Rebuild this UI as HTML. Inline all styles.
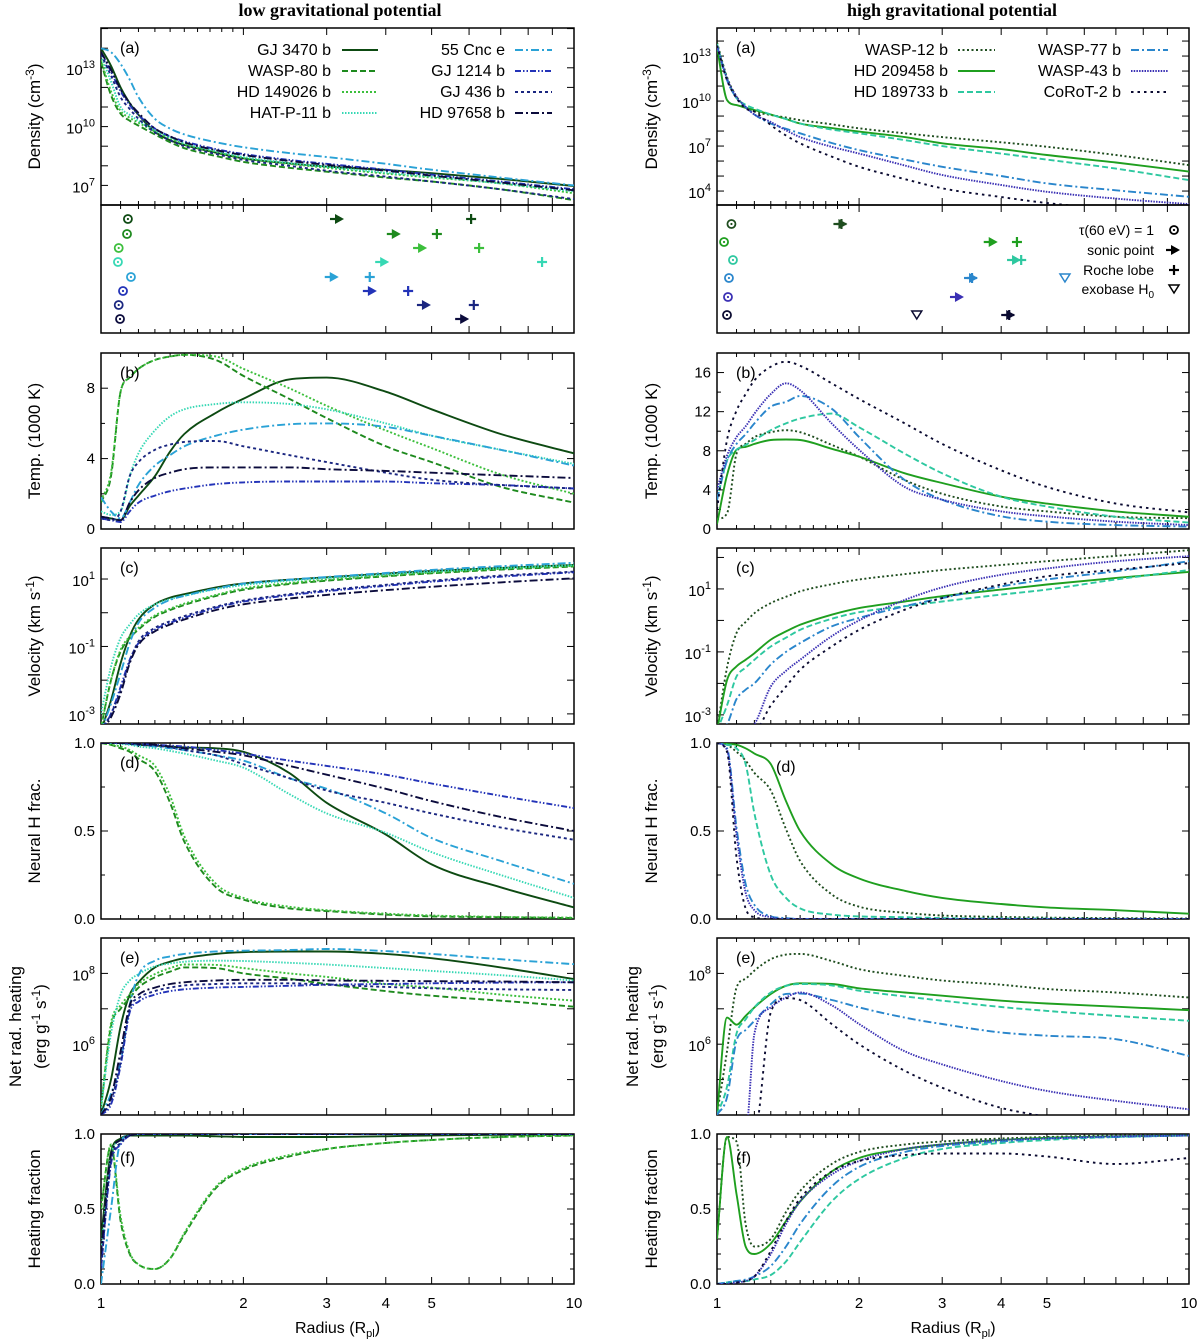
<!DOCTYPE html>
<html><head><meta charset="utf-8"><title>Planetary wind profiles</title>
<style>
html,body{margin:0;padding:0;background:#fff;}
svg{display:block;font-family:"Liberation Sans",sans-serif;}
</style></head>
<body>
<svg id="fig" width="1200" height="1339" viewBox="0 0 1200 1339" xmlns="http://www.w3.org/2000/svg">
<text x="340" y="16" text-anchor="middle" font-family="Liberation Serif, serif" font-weight="bold" font-size="18">low gravitational potential</text>
<text x="952" y="16" text-anchor="middle" font-family="Liberation Serif, serif" font-weight="bold" font-size="18">high gravitational potential</text>
</svg>
<script>
// ---------------- DATA ----------------
const radiusGrid = [1,1.05,1.1,1.15,1.2,1.3,1.4,1.5,1.75,2,2.5,3,4,5,7,10];
const lowPlanets = ['GJ 3470 b','WASP-80 b','HD 149026 b','HAT-P-11 b','55 Cnc e','GJ 1214 b','GJ 436 b','HD 97658 b'];
const highPlanets = ['WASP-12 b','HD 209458 b','HD 189733 b','WASP-77 b','WASP-43 b','CoRoT-2 b'];

// log10 density (cm^-3)
const lowDensityLog = [
 [14.0,13.1,12.0,11.2,10.6,9.74,9.3,9.06,8.67,8.38,8.12,7.96,7.79,7.62,7.33,6.97],
 [13.3,11.6,10.66,10.3,10.05,9.6,9.2,8.9,8.5,8.2,7.9,7.7,7.4,7.2,6.8,6.25],
 [13.4,11.8,10.8,10.45,10.2,9.75,9.4,9.1,8.7,8.4,8.1,7.9,7.6,7.4,7.1,6.6],
 [13.6,12.3,11.0,10.6,10.3,9.8,9.45,9.15,8.75,8.45,8.15,7.95,7.65,7.45,7.1,6.7],
 [14.0,13.8,13.2,12.4,11.5,10.4,9.9,9.6,9.2,8.95,8.65,8.45,8.1,7.8,7.4,7.0],
 [13.8,12.8,11.8,11.1,10.6,9.9,9.5,9.25,8.85,8.6,8.3,8.1,7.8,7.55,7.2,6.8],
 [13.7,12.6,11.5,10.9,10.4,9.7,9.3,9.0,8.6,8.3,8.0,7.75,7.45,7.2,6.8,6.3],
 [13.8,12.9,11.9,11.2,10.7,9.9,9.5,9.2,8.8,8.55,8.25,8.05,7.75,7.5,7.15,6.75]];
const highDensityLog = [
 [13.9,11.6,10.3,9.6,9.3,9.07,8.9,8.73,8.45,8.18,7.85,7.6,7.25,6.95,6.4,5.73],
 [13.6,10.07,9.73,9.55,9.4,9.1,8.8,8.5,8.2,7.96,7.6,7.18,6.8,6.4,5.9,5.3],
 [13.8,11.5,10.2,9.75,9.5,9.1,8.8,8.5,8.1,7.85,7.4,7.0,6.5,6.1,5.5,4.73],
 [13.7,11.4,10.2,9.6,9.1,8.5,8.15,7.85,7.2,6.73,6.1,5.62,5.0,4.51,4.05,3.62],
 [13.7,11.5,10.3,9.6,9.1,8.6,8.05,7.6,6.95,6.5,5.7,5.07,4.4,3.95,3.5,3.13],
 [13.7,11.4,10.2,9.5,9.3,8.4,7.7,7.18,6.3,5.62,4.8,4.18,3.6,3.2,2.8,2.5]];

// marker radii (R_pl)
const lowTauR = [1.14,1.135,1.09,1.086,1.157,1.113,1.09,1.097];
const lowSonicR = [3.17,4.18,4.75,3.95,3.09,3.72,4.84,5.83];
const lowRocheR = [6.06,5.13,6.30,8.56,3.70,4.46,6.14,null];
const highTauR = [1.073,1.035,1.081,1.06,1.055,1.05];
const highSonicR = [1.835,3.82,4.28,3.47,3.24,4.16];
const highRocheR = [1.835,4.32,4.41,3.47,null,4.16];
const highExobaseR = [null,null,null,5.46,null,2.65];

// temperature (1000 K)
const lowTemp = [
 [0.7,0.6,0.5,1.3,1.9,3.0,4.4,5.4,6.6,7.4,8.5,8.6,7.8,6.8,5.4,4.3],
 [1.5,3.0,7.8,8.6,9.1,9.6,9.8,9.9,9.6,8.7,7.4,6.3,4.7,3.8,2.4,1.5],
 [1.6,3.2,7.8,8.6,9.1,9.6,9.8,9.9,9.8,9.1,8.0,7.0,5.6,4.6,3.1,2.0],
 [1.0,0.8,1.0,3.0,4.3,5.6,6.4,6.8,7.1,7.2,7.1,6.8,6.0,5.3,4.5,3.7],
 [1.8,1.0,0.6,1.5,2.5,3.6,4.2,4.7,5.3,5.65,5.95,6.0,5.8,5.3,4.5,3.6],
 [0.6,0.5,0.4,1.0,1.5,1.9,2.15,2.3,2.55,2.65,2.7,2.7,2.7,2.6,2.5,2.3],
 [0.6,0.5,1.0,3.0,3.8,4.5,4.8,4.95,5.0,4.7,4.2,3.8,3.2,2.8,2.5,2.3],
 [0.7,0.6,0.5,1.5,2.2,2.9,3.2,3.4,3.5,3.5,3.5,3.4,3.3,3.2,3.05,2.9]];
const highTemp = [
 [1,1.6,7.7,8.7,9.4,9.9,10.1,9.9,8.6,7.4,5.0,3.6,2.3,1.8,1.25,1.1],
 [0.5,5.5,8.1,8.4,8.7,9.1,9.15,9.1,8.2,7.4,5.7,4.7,3.3,2.6,1.8,1.25],
 [3,7,8.1,8.6,9.1,10.1,10.8,11.3,11.8,10.4,7.7,5.7,3.3,2.3,1.25,0.65],
 [3,7,8.7,9.7,10.8,12.5,13.0,13.6,12.3,9.4,5.0,3.0,1.3,0.75,0.4,0.25],
 [4,7.5,9.4,10.5,11.8,13.8,14.9,14.2,10.8,8.1,4.3,3.0,1.8,1.3,0.75,0.4],
 [2.0,9.1,12.1,13.8,15.2,16.6,17.1,16.7,14.9,13.3,10.8,8.7,6.0,4.3,2.6,1.7]];

// log10 velocity (km/s)
const lowVelLog = [
 [-3.5,-2.6,-1.5,-0.7,-0.2,0.25,0.45,0.55,0.75,0.87,0.98,1.05,1.16,1.24,1.33,1.42],
 [-3.4,-2.0,-1.15,-0.75,-0.5,-0.12,0.08,0.23,0.5,0.68,0.85,0.95,1.08,1.17,1.28,1.37],
 [-3.4,-2.0,-1.1,-0.7,-0.45,-0.08,0.12,0.27,0.53,0.72,0.88,0.98,1.1,1.19,1.3,1.39],
 [-3.0,-1.6,-0.75,-0.35,-0.05,0.25,0.4,0.5,0.7,0.82,0.95,1.03,1.14,1.22,1.32,1.41],
 [-3.5,-2.7,-1.8,-0.9,-0.3,0.15,0.38,0.5,0.72,0.86,0.98,1.06,1.18,1.27,1.38,1.48],
 [-3.5,-3.0,-2.2,-1.4,-0.9,-0.5,-0.3,-0.15,0.15,0.33,0.52,0.64,0.8,0.92,1.07,1.2],
 [-3.5,-3.0,-2.3,-1.45,-0.85,-0.45,-0.25,-0.1,0.18,0.36,0.55,0.67,0.83,0.95,1.1,1.22],
 [-3.5,-3.1,-2.4,-1.5,-0.95,-0.55,-0.35,-0.2,0.08,0.25,0.42,0.53,0.67,0.77,0.9,1.02]];
const highVelLog = [
 [-3.5,-1.5,-0.4,-0.05,0.23,0.55,0.75,0.92,1.15,1.3,1.47,1.6,1.76,1.88,2.05,2.23],
 [-3.5,-1.9,-1.46,-1.25,-1.04,-0.61,-0.35,-0.14,0.18,0.39,0.6,0.77,0.98,1.14,1.35,1.54],
 [-3.5,-2.7,-1.78,-1.5,-1.25,-0.83,-0.55,-0.3,0.05,0.26,0.45,0.6,0.82,0.98,1.3,1.6],
 [-3.5,-3.3,-2.5,-2.2,-2.0,-1.4,-1.0,-0.72,-0.19,0.08,0.45,0.71,1.08,1.3,1.56,1.88],
 [-3.5,-3.5,-3.5,-3.5,-3.3,-2.1,-1.6,-1.25,-0.5,0.0,0.65,1.05,1.45,1.65,1.88,2.04],
 [-3.5,-3.5,-3.5,-3.5,-3.5,-2.7,-2.1,-1.57,-0.83,-0.3,0.34,0.71,1.14,1.4,1.61,1.82]];

// neutral H fraction
const lowNeutral = [
 [1,1,1,0.995,0.99,0.985,0.98,0.975,0.97,0.95,0.83,0.66,0.48,0.31,0.18,0.066],
 [1,0.99,0.97,0.95,0.91,0.84,0.66,0.44,0.18,0.11,0.06,0.045,0.025,0.015,0.01,0.005],
 [1,0.99,0.98,0.96,0.93,0.87,0.7,0.47,0.2,0.12,0.07,0.05,0.03,0.02,0.012,0.008],
 [1,1,0.995,0.99,0.98,0.97,0.955,0.94,0.9,0.86,0.71,0.6,0.49,0.38,0.25,0.12],
 [1,1,1,0.995,0.99,0.98,0.97,0.96,0.93,0.9,0.8,0.74,0.6,0.46,0.33,0.2],
 [1,1,1,1,0.995,0.99,0.985,0.98,0.96,0.94,0.9,0.87,0.82,0.77,0.7,0.63],
 [1,1,1,0.995,0.99,0.985,0.975,0.96,0.93,0.88,0.8,0.73,0.66,0.6,0.52,0.45],
 [1,1,1,1,0.995,0.99,0.98,0.97,0.95,0.93,0.87,0.82,0.74,0.67,0.58,0.5]];
const highNeutral = [
 [1,0.99,0.95,0.9,0.83,0.73,0.51,0.33,0.14,0.07,0.035,0.02,0.012,0.008,0.005,0.003],
 [1,0.995,0.99,0.97,0.94,0.88,0.67,0.5,0.31,0.23,0.16,0.12,0.085,0.066,0.05,0.03],
 [1,0.99,0.97,0.88,0.6,0.25,0.12,0.06,0.025,0.015,0.01,0.005,0.003,0.002,0.001,0],
 [1,0.97,0.52,0.2,0.08,0.015,0.005,0,0,0,0,0,0,0,0,0],
 [1,0.96,0.48,0.15,0.05,0.01,0,0,0,0,0,0,0,0,0,0],
 [1,0.95,0.35,0.06,0.01,0,0,0,0,0,0,0,0,0,0,0]];

// log10 net radiative heating (erg/g/s)
const lowHeatLog = [
 [4.0,5.0,6.5,7.4,7.75,8.17,8.33,8.43,8.55,8.6,8.62,8.62,8.55,8.43,8.17,7.84],
 [4.2,6.5,7.0,7.3,7.6,7.89,8.05,8.17,8.15,8.0,7.85,7.7,7.5,7.37,7.23,7.06],
 [4.2,6.6,7.1,7.4,7.7,7.98,8.15,8.25,8.24,8.15,8.0,7.9,7.7,7.6,7.4,7.23],
 [4.2,6.3,7.4,7.8,7.98,8.2,8.28,8.33,8.36,8.35,8.3,8.25,8.15,8.07,7.95,7.8],
 [4.0,4.6,5.5,7.1,7.95,8.36,8.48,8.55,8.62,8.64,8.66,8.69,8.63,8.55,8.4,8.26],
 [4.0,4.3,5.4,6.9,7.2,7.4,7.5,7.55,7.6,7.62,7.65,7.68,7.7,7.72,7.74,7.75],
 [4.0,4.4,5.5,7.0,7.3,7.5,7.6,7.66,7.7,7.72,7.72,7.68,7.62,7.58,7.55,7.53],
 [4.0,4.5,5.8,7.1,7.4,7.6,7.7,7.75,7.8,7.82,7.82,7.8,7.79,7.78,7.77,7.75]];
const highHeatLog = [
 [4.0,5.8,7.6,7.85,8.08,8.4,8.53,8.55,8.35,8.12,7.93,7.8,7.68,7.56,7.46,7.32],
 [4.0,6.75,6.55,6.8,7.04,7.42,7.65,7.72,7.7,7.58,7.46,7.37,7.23,7.15,7.06,6.96],
 [4.0,4.8,6.3,6.7,7.04,7.46,7.65,7.7,7.66,7.51,7.35,7.23,7.05,6.94,6.8,6.66],
 [4.0,4.5,6.1,6.4,6.66,7.13,7.42,7.43,7.25,7.04,6.75,6.57,6.33,6.24,6.14,5.67],
 [3.5,3.5,3.5,3.5,6.3,7.04,7.32,7.46,7.1,6.57,5.8,5.43,4.96,4.68,4.4,4.16],
 [3.5,3.5,3.5,3.5,3.5,6.9,7.3,7.25,6.57,6.0,5.25,4.77,4.2,3.95,3.6,3.3]];

// heating fraction
const lowHeatFrac = [
 [0.3,0.88,0.97,0.99,0.99,0.99,0.99,0.99,0.985,0.98,0.98,0.98,0.985,0.99,0.995,0.995],
 [0.5,0.92,0.42,0.2,0.13,0.1,0.17,0.33,0.64,0.76,0.85,0.9,0.94,0.96,0.98,0.99],
 [0.5,0.93,0.45,0.21,0.13,0.1,0.17,0.34,0.65,0.77,0.86,0.9,0.94,0.96,0.98,0.99],
 [0.2,0.85,0.96,0.99,1,1,1,1,1,1,1,1,1,1,1,1],
 [0,0.5,0.95,0.99,1,1,1,1,1,1,1,1,1,1,1,1],
 [0.1,0.8,0.93,0.99,1,1,1,1,1,1,1,1,1,1,1,1],
 [0.1,0.82,0.94,0.99,1,1,1,1,1,1,1,1,1,1,1,1],
 [0.2,0.86,0.96,0.99,1,1,1,1,1,1,1,1,1,1,1,1]];
const highHeatFrac = [
 [0.3,0.98,0.95,0.4,0.25,0.3,0.48,0.62,0.8,0.88,0.93,0.95,0.97,0.98,0.99,0.99],
 [0.3,0.98,0.6,0.25,0.2,0.27,0.42,0.55,0.75,0.84,0.9,0.93,0.96,0.975,0.985,0.99],
 [0,0.01,0.02,0.02,0.03,0.06,0.15,0.28,0.55,0.7,0.84,0.9,0.94,0.96,0.98,0.99],
 [0,0.01,0.02,0.03,0.05,0.12,0.25,0.4,0.65,0.78,0.88,0.92,0.95,0.97,0.98,0.99],
 [0,0,0.01,0.02,0.05,0.2,0.4,0.55,0.73,0.82,0.9,0.93,0.96,0.97,0.985,0.99],
 [0,0,0.01,0.02,0.05,0.22,0.42,0.57,0.75,0.82,0.86,0.87,0.87,0.85,0.8,0.84]];

// ---------------- STYLE ----------------
const lowStyles = [
 {c:'#0d4a12',d:''},{c:'#1e8a1e',d:'6,3'},{c:'#3cbf3c',d:'2,2'},{c:'#36d8b4',d:'1.5,1.5'},
 {c:'#2aa2d6',d:'8,3,2,3'},{c:'#2333b8',d:'6,2,1.5,2,1.5,2'},{c:'#1a2680',d:'3,3'},{c:'#0b0b3c',d:'8,3,2,3'}];
const highStyles = [
 {c:'#1f4d1f',d:'2,2.5'},{c:'#1f9f1f',d:''},{c:'#2ec8a0',d:'6,3'},{c:'#2a86cc',d:'8,3,2,3'},
 {c:'#3a30b4',d:'1.5,1.2'},{c:'#0a0a30',d:'2.5,4'}];

const NS='http://www.w3.org/2000/svg';
const svg=document.getElementById('fig');
function el(tag,attrs,parent){const e=document.createElementNS(NS,tag);for(const k in attrs)e.setAttribute(k,attrs[k]);(parent||svg).appendChild(e);return e;}

const cols={left:{x0:101,x1:574,ytx:40},right:{x0:717,x1:1189,ytx:657}};
const rows={a:[28,205],m:[205,333],b:[353,529],c:[548,724],d:[743,919],e:[938,1115],f:[1134,1284]};
function xScale(col){return r=>col.x0+(col.x1-col.x0)*Math.log10(r);}
function yScale(row,min,max){return v=>row[1]-(v-min)/(max-min)*(row[1]-row[0]);}

function monotonePath(xs,ys){
 const n=xs.length,d=[],m=[];
 for(let i=0;i<n-1;i++)d.push((ys[i+1]-ys[i])/(xs[i+1]-xs[i]));
 m[0]=d[0];m[n-1]=d[n-2];
 for(let i=1;i<n-1;i++){m[i]=(d[i-1]*d[i]<=0)?0:(d[i-1]+d[i])/2;}
 for(let i=0;i<n-1;i++){if(d[i]===0){m[i]=0;m[i+1]=0;continue;}const a=m[i]/d[i],b=m[i+1]/d[i],s=a*a+b*b;if(s>9){const t=3/Math.sqrt(s);m[i]=t*a*d[i];m[i+1]=t*b*d[i];}}
 let p='M'+xs[0].toFixed(1)+','+ys[0].toFixed(1);
 for(let i=0;i<n-1;i++){const h=xs[i+1]-xs[i];
  p+=' C'+(xs[i]+h/3).toFixed(1)+','+(ys[i]+m[i]*h/3).toFixed(1)+' '+(xs[i+1]-h/3).toFixed(1)+','+(ys[i+1]-m[i+1]*h/3).toFixed(1)+' '+xs[i+1].toFixed(1)+','+ys[i+1].toFixed(1);}
 return p;}

function supText(parent,x,y,base,exp,anchor,name){
 const t=el('text',{x:x,y:y,'text-anchor':anchor||'end','font-size':15,fill:'#000'},parent);
 
 
 t.appendChild(document.createTextNode(base));
 const s=el('tspan',{dy:-7,'font-size':11},t);s.textContent=exp;return t;}

let clipId=0;
function frame(col,row,key,opts){
 const g=el('g',{});
 
 
 const x0=col.x0,x1=col.x1,y0=row[0],y1=row[1];
 const ticks=el('g',{stroke:'#000','stroke-width':1},g);
 
 
 const xs=xScale(col);
 for(let v=1.1;v<10;v+=(v<1.95?0.1:1)){const vv=Math.round(v*10)/10;if(vv===1)continue;
  const X=xs(vv),len=(vv<2)?4:7;
  el('line',{x1:X,y1:y1,x2:X,y2:y1-len},ticks);el('line',{x1:X,y1:y0,x2:X,y2:y0+len},ticks);}
 if(opts&&opts.yticks){opts.yticks.forEach(t=>{const Y=t.y;const len=t.major?7:4;
  el('line',{x1:x0,y1:Y,x2:x0+len,y2:Y},ticks);el('line',{x1:x1,y1:Y,x2:x1-len,y2:Y},ticks);});}
 const rc=el('rect',{x:x0,y:y0,width:x1-x0,height:y1-y0,fill:'none',stroke:'#000','stroke-width':1.5},g);
 
 
 const cp=el('clipPath',{id:'cp'+(++clipId)},g);el('rect',{x:x0,y:y0,width:x1-x0,height:y1-y0},cp);
 return {g:g,clip:'url(#cp'+clipId+')'};}

function panel(colKey,rowKey,key,min,max,data,styles,names,axis){
 const col=cols[colKey],row=rows[rowKey];
 const xs=xScale(col),ys=yScale(row,min,max);
 const yt=[];
 axis.ticks.forEach(v=>{if(v>=min-1e-9&&v<=max+1e-9)yt.push({y:ys(v),major:axis.labels.includes(v)||axis.allMajor});});
 const f=frame(col,row,key,{yticks:yt});
 const lg=el('g',{'clip-path':f.clip,fill:'none','stroke-width':1.9},f.g);
 
 
 data.forEach((vals,i)=>{
  const px=radiusGrid.map(r=>xs(r)),py=vals.map(v=>ys(v));
  const p=el('path',{d:monotonePath(px,py),stroke:styles[i].c,'stroke-dasharray':styles[i].d,'stroke-linejoin':'round'},lg);
  
  
 });
 axis.labels.forEach(v=>{const Y=ys(v)+5;
  if(axis.log){supText(f.g,col.x0-6,Y+2,'10',String(v),'end',key+'-y-tick-label');}
  else{const t=el('text',{x:col.x0-6,y:Y,'text-anchor':'end','font-size':15},f.g);
   
   
   t.textContent=axis.fmt?axis.fmt(v):String(v);}});
 return {f:f,xs:xs,ys:ys,col:col,row:row};}

function yTitle(colKey,row,lines,name){
 const col=cols[colKey];const cy=(row[0]+row[1])/2;
 lines.forEach((ln,i)=>{
  const x=col.ytx-(lines.length-1-i)*25+(lines.length>1?6:0);
  const t=el('text',{x:0,y:0,'text-anchor':'middle','font-size':17,transform:'translate('+x+','+cy+') rotate(-90)'});
  
  
  ln.forEach(part=>{if(typeof part==='string'){t.appendChild(document.createTextNode(part));}
   else{const s=el('tspan',{dy:part.dy,'font-size':part.fs||12},t);s.textContent=part.t;}});
 });}

function panelLabel(x,y,txt,name){const t=el('text',{x:x,y:y,'font-size':16});
 
 
 t.textContent=txt;}

const fmt1=v=>v.toFixed(1);
const range=(a,b,s)=>{const r=[];for(let v=a;v<=b+1e-9;v+=s)r.push(Math.round(v*100)/100);return r;};

panel('left','a','left-density',6,15.03,lowDensityLog,lowStyles,lowPlanets,{log:true,ticks:range(6,15,1),labels:[7,10,13],allMajor:true});
panel('right','a','right-density',3.07,14.87,highDensityLog,highStyles,highPlanets,{log:true,ticks:range(4,14,1),labels:[4,7,10,13],allMajor:true});
panel('left','b','left-temp',0,10,lowTemp,lowStyles,lowPlanets,{ticks:range(0,10,2),labels:[0,4,8]});
panel('right','b','right-temp',0,18,highTemp,highStyles,highPlanets,{ticks:range(0,18,2),labels:[0,4,8,12,16]});
panel('left','c','left-velocity',-3.3,1.92,lowVelLog,lowStyles,lowPlanets,{log:true,ticks:range(-3,1,1),labels:[-3,-1,1],allMajor:true});
panel('right','c','right-velocity',-3.29,2.3,highVelLog,highStyles,highPlanets,{log:true,ticks:range(-3,2,1),labels:[-3,-1,1],allMajor:true});
panel('left','d','left-neutral',0,1,lowNeutral,lowStyles,lowPlanets,{ticks:range(0,1,0.25),labels:[0,0.5,1],fmt:fmt1});
panel('right','d','right-neutral',0,1,highNeutral,highStyles,highPlanets,{ticks:range(0,1,0.25),labels:[0,0.5,1],fmt:fmt1});
panel('left','e','left-heating',4,9,lowHeatLog,lowStyles,lowPlanets,{log:true,ticks:range(4,9,1),labels:[6,8],allMajor:true});
panel('right','e','right-heating',4,9,highHeatLog,highStyles,highPlanets,{log:true,ticks:range(4,9,1),labels:[6,8],allMajor:true});
panel('left','f','left-heat-fraction',0,1,lowHeatFrac,lowStyles,lowPlanets,{ticks:range(0,1,0.1),labels:[0,0.5,1],fmt:fmt1});
panel('right','f','right-heat-fraction',0,1,highHeatFrac,highStyles,highPlanets,{ticks:range(0,1,0.1),labels:[0,0.5,1],fmt:fmt1});

function markerPanel(colKey,key,styles,rowsY,tau,sonic,roche,exo){
 const col=cols[colKey],xs=xScale(col);
 const f=frame(col,rows.m,key,{yticks:[]});
 const g=el('g',{'clip-path':f.clip},f.g);
 rowsY.forEach((y,i)=>{const c=styles[i].c;
  if(tau[i]!=null){const X=xs(tau[i]);
   const m=el('g',{},g);
   
   
   el('circle',{cx:X,cy:y,r:4,fill:'none',stroke:c,'stroke-width':1.8},m);el('circle',{cx:X,cy:y,r:1.1,fill:c},m);}
  if(sonic[i]!=null){const X=xs(sonic[i]);
   const m=el('g',{},g);
   
   
   el('line',{x1:X-8,y1:y,x2:X,y2:y,stroke:c,'stroke-width':2.2},m);
   el('polygon',{points:(X-3)+','+(y-5)+' '+(X+6)+','+y+' '+(X-3)+','+(y+5),fill:c},m);}
  if(roche[i]!=null){const X=xs(roche[i]);
   const m=el('g',{stroke:c,'stroke-width':2.2},g);
   
   
   el('line',{x1:X-5,y1:y,x2:X+5,y2:y},m);el('line',{x1:X,y1:y-5,x2:X,y2:y+5},m);}
  if(exo&&exo[i]!=null){const X=xs(exo[i]);
   const m=el('polygon',{points:(X-5)+','+(y-4)+' '+(X+5)+','+(y-4)+' '+X+','+(y+4),fill:'none',stroke:c,'stroke-width':1.5},g);
   
   }
 });}
markerPanel('left','left-markers',lowStyles,[219,234,248,262,277,291,305,319],lowTauR,lowSonicR,lowRocheR,null);
markerPanel('right','right-markers',highStyles,[224,242,260,278,297,315],highTauR,highSonicR,highRocheR,highExobaseR);

(function(){
 const g=el('g',{});
 
 
 const items=[['τ(60 eV) = 1','tau'],['sonic point','sonic'],['Roche lobe','roche'],['exobase H','exo']];
 const ys=[230,250,270,289],sx=1174;
 items.forEach((it,i)=>{const y=ys[i];
  const t=el('text',{x:1154,y:y+5,'text-anchor':'end','font-size':14},g);
  
  
  t.appendChild(document.createTextNode(it[0]));
  if(it[1]==='exo'){const s=el('tspan',{dy:4,'font-size':10},t);s.textContent='0';}
  if(it[1]==='tau'){el('circle',{cx:sx,cy:y,r:4,fill:'none',stroke:'#000','stroke-width':1.8},g);el('circle',{cx:sx,cy:y,r:1.1,fill:'#000'},g);}
  if(it[1]==='sonic'){el('line',{x1:sx-8,y1:y,x2:sx,y2:y,stroke:'#000','stroke-width':2.2},g);el('polygon',{points:(sx-3)+','+(y-5)+' '+(sx+6)+','+y+' '+(sx-3)+','+(y+5)},g);}
  if(it[1]==='roche'){el('line',{x1:sx-5,y1:y,x2:sx+5,y2:y,stroke:'#000','stroke-width':2.2},g);el('line',{x1:sx,y1:y-5,x2:sx,y2:y+5,stroke:'#000','stroke-width':2.2},g);}
  if(it[1]==='exo'){el('polygon',{points:(sx-5)+','+(y-4)+' '+(sx+5)+','+(y-4)+' '+sx+','+(y+4),fill:'none',stroke:'#000','stroke-width':1.5},g);}
 });})();

function seriesLegend(names,styles,colPos,key){
 const g=el('g',{});
 
 
 names.forEach((n,i)=>{const cp=colPos[i<colPos.split?0:1];const r=i<colPos.split?i:i-colPos.split;const y=50+r*21;
  const e=el('g',{},g);
  
  
  const t=el('text',{x:cp.tx,y:y+5,'text-anchor':'end','font-size':16},e);t.textContent=n;
  el('line',{x1:cp.l0,y1:y,x2:cp.l1,y2:y,stroke:styles[i].c,'stroke-width':2,'stroke-dasharray':styles[i].d},e);});}
const lp=[{tx:331,l0:342,l1:378},{tx:505,l0:515,l1:552}];lp.split=4;
seriesLegend(lowPlanets,lowStyles,lp,'left-legend');
const rp=[{tx:948,l0:958,l1:995},{tx:1121,l0:1131,l1:1168}];rp.split=3;
seriesLegend(highPlanets,highStyles,rp,'right-legend');

[['left',120],['right',736]].forEach(([c,x])=>{
 panelLabel(x,53,'(a)',c+'-panel-label-a');panelLabel(x,378,'(b)',c+'-panel-label-b');
 panelLabel(x,573,'(c)',c+'-panel-label-c');
 panelLabel(x,1163,'(f)',c+'-panel-label-f');panelLabel(x,963,'(e)',c+'-panel-label-e');});
panelLabel(120,768,'(d)','left-panel-label-d');panelLabel(776,772,'(d)','right-panel-label-d');

['left','right'].forEach(c=>{
 yTitle(c,rows.a,[['Density (cm',{t:'-3',dy:-6},{t:')',dy:6,fs:17}]],c+'-density-title');
 yTitle(c,rows.b,[['Temp. (1000 K)']],c+'-temp-title');
 yTitle(c,rows.c,[['Velocity (km s',{t:'-1',dy:-6},{t:')',dy:6,fs:17}]],c+'-velocity-title');
 yTitle(c,rows.d,[['Neural H frac.']],c+'-neutral-title');
 yTitle(c,rows.e,[['Net rad. heating'],['(erg g',{t:'-1',dy:-6},{t:' s',dy:6,fs:17},{t:'-1',dy:-6},{t:')',dy:6,fs:17}]],c+'-heating-title');
 yTitle(c,rows.f,[['Heating fraction']],c+'-fraction-title');
 const col=cols[c],xs=xScale(col);
 [1,2,3,4,5,10].forEach(v=>{const t=el('text',{x:xs(v),y:1308,'text-anchor':'middle','font-size':15});
  
  
  t.textContent=String(v);});
 const t=el('text',{x:(col.x0+col.x1)/2,y:1333,'text-anchor':'middle','font-size':16});
 
 
 t.appendChild(document.createTextNode('Radius (R'));
 const s=el('tspan',{dy:4,'font-size':11},t);s.textContent='pl';
 const s2=el('tspan',{dy:-4},t);s2.textContent=')';
});
</script>
</body></html>
